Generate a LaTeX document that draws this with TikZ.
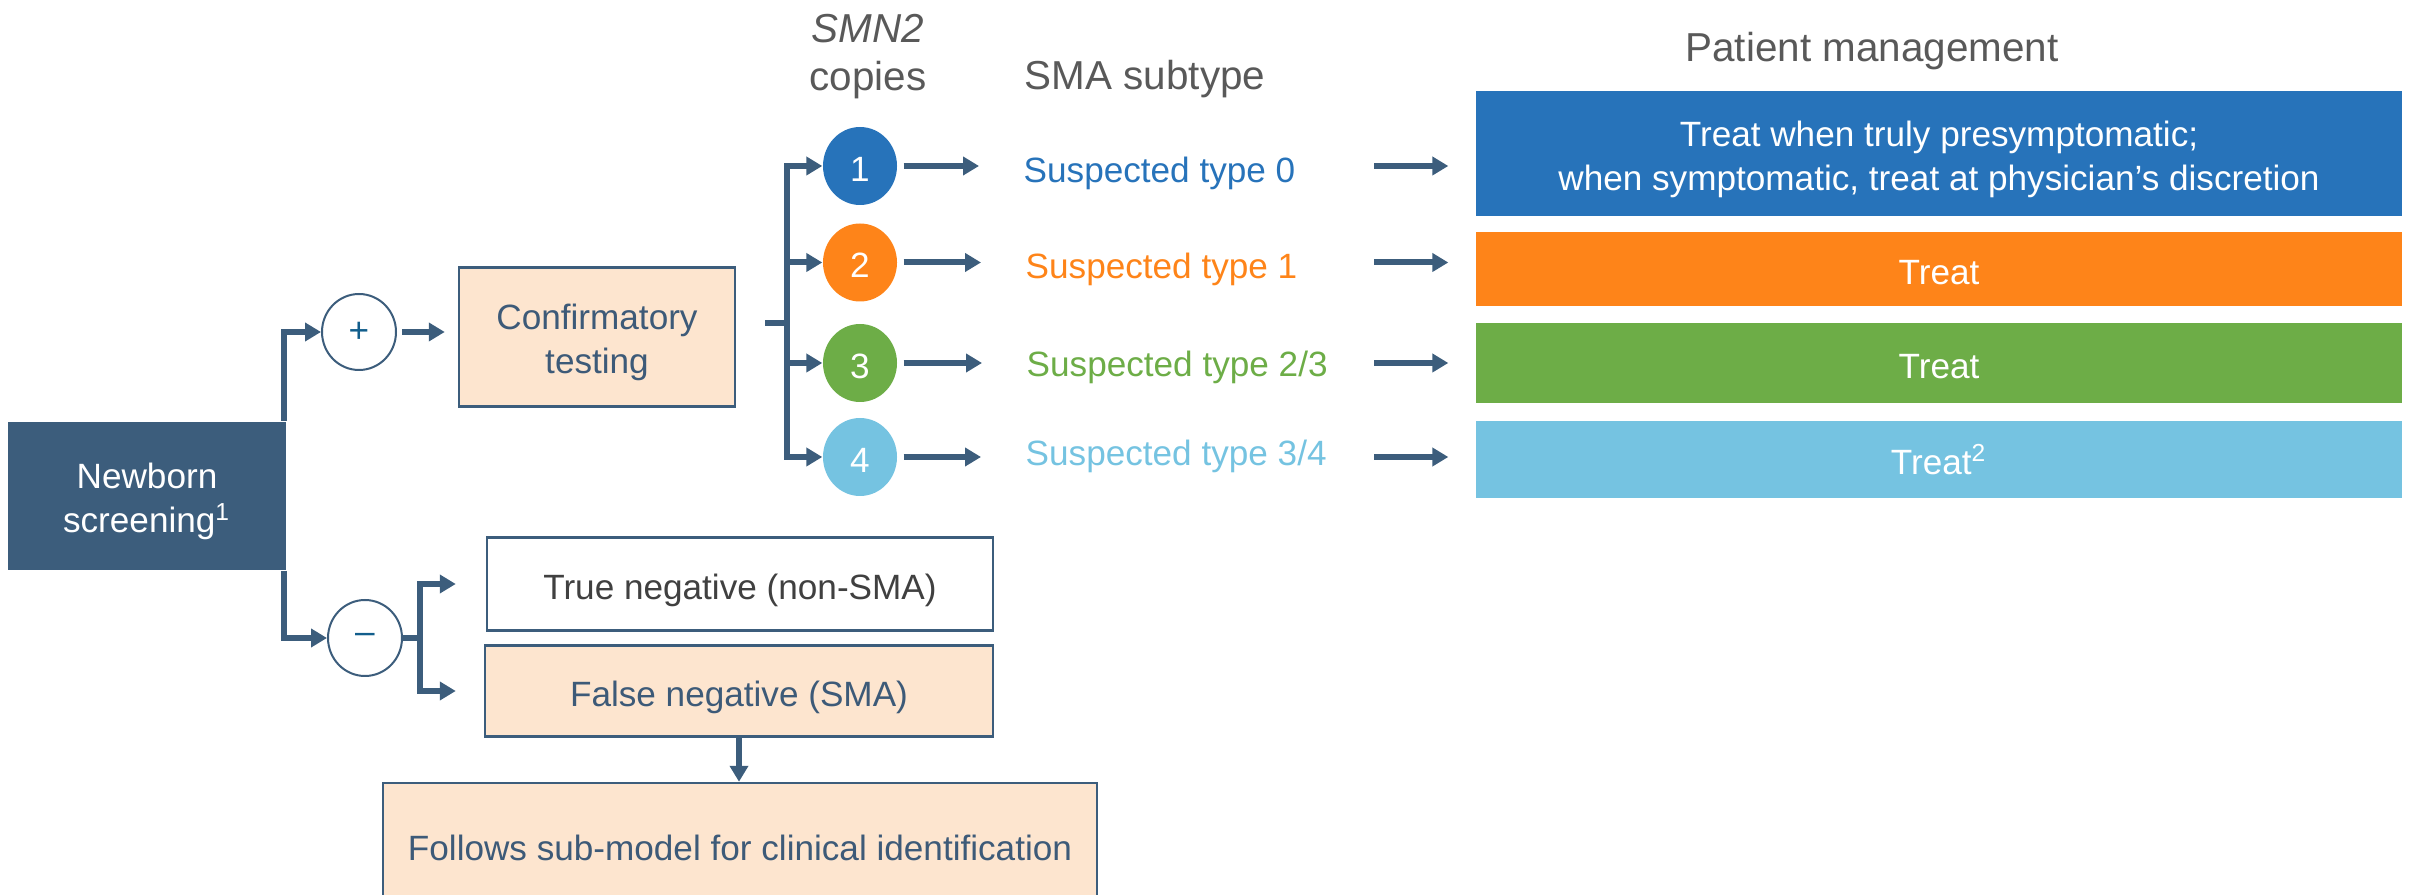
\documentclass[tikz,border=0pt]{standalone}
\usepackage{fontspec}
\setmainfont{Liberation Sans}
\usetikzlibrary{arrows.meta,shapes.geometric,calc}
\definecolor{slate}{HTML}{3C5D7C}
\definecolor{slatetext}{HTML}{3D5A78}
\definecolor{peach}{HTML}{FDE5CF}
\definecolor{signblue}{HTML}{125E8C}
\definecolor{hdrgray}{HTML}{595959}
\definecolor{tngray}{HTML}{404040}
\definecolor{cone}{HTML}{2773BA}
\definecolor{ctwo}{HTML}{FE8419}
\definecolor{cthree}{HTML}{6DAD47}
\definecolor{cfour}{HTML}{75C3E1}
\begin{document}
\begin{tikzpicture}[x=0.1mm,y=-0.1mm,
  conn/.style={draw=slate,line width=0.6mm},
  arr/.style={conn,-{Triangle[length=1.6mm,width=1.8mm]}},
  bodyfont/.style={font=\fontsize{10}{12.6}\selectfont},
  oneline/.style={text height=8.6pt,text depth=0pt},
  twoline/.style={text height=21pt,text depth=0pt},
  box/.style={draw=slate,line width=0.25mm,inner sep=0pt,align=center,bodyfont},
  sign/.style={ellipse,draw=slate,line width=0.2mm,fill=white,inner sep=0pt,
    minimum width=7.4mm,minimum height=7.6mm,text=signblue,bodyfont},
  num/.style={ellipse,inner sep=0pt,minimum width=7.4mm,minimum height=7.8mm,
    text=white,bodyfont,oneline},
  sub/.style={anchor=west,inner sep=0pt,bodyfont,text height=7.16pt,text depth=0pt},
  mbox/.style={inner sep=0pt,minimum width=92.6mm,text=white,align=center,bodyfont},
  hdr/.style={inner sep=0pt,text=hdrgray,align=center,
    font=\fontsize{11.5}{13.6}\selectfont,text height=8.23pt,text depth=0pt}
]
\clip (0,0) rectangle (2415,895);
\useasboundingbox (0,0) rectangle (2415,895);

% headers
\node[hdr,text height=21.9pt] (hsmn) at (868,52) {\textit{SMN2}\\copies};
\node[hdr] (hsub) at (1145,75) {SMA subtype};
\node[hdr] (hpm) at (1872,47.5) {Patient management};

% left part
\node[box,twoline,fill=slate,draw=none,text=white,minimum width=27.8mm,minimum height=14.8mm]
  (nb) at (147,496) {Newborn\\screening\textsuperscript{1}};
\node[sign] (plus) at (359,332) {+};
\node[sign] (minus) at (365,638) {–};
\node[box,twoline,fill=peach,text=slatetext,minimum width=27.6mm,minimum height=13.9mm]
  (conf) at (597,337) {Confirmatory\\testing};
\node[box,oneline,fill=white,text=tngray,minimum width=50.6mm,minimum height=9.3mm]
  (tn) at (740,584) {True negative (non-SMA)};
\node[box,oneline,fill=peach,text=slatetext,minimum width=50.8mm,minimum height=9.1mm]
  (fn) at (739,691) {False negative (SMA)};
\node[box,oneline,fill=peach,text=slatetext,minimum width=71.4mm,minimum height=12.4mm]
  (fol) at (740,845) {Follows sub-model for clinical identification};

% circles
\node[num,fill=cone] (c1) at (860,166) {1};
\node[num,fill=ctwo] (c2) at (860,262.5) {2};
\node[num,fill=cthree] (c3) at (860,363) {3};
\node[num,fill=cfour] (c4) at (860,457) {4};

% subtypes
\node[sub,text=cone] (s1) at (1023,170) {Suspected type 0};
\node[sub,text=ctwo] (s2) at (1025,266) {Suspected type 1};
\node[sub,text=cthree] (s3) at (1026,364) {Suspected type 2/3};
\node[sub,text=cfour] (s4) at (1025,453) {Suspected type 3/4};

% management
\node[mbox,twoline,fill=cone,minimum height=12.5mm] (m1) at (1939,153.5)
  {Treat when truly presymptomatic;\\when symptomatic, treat at physician’s discretion};
\node[mbox,oneline,fill=ctwo,minimum height=7.4mm] (m2) at (1939,269) {Treat};
\node[mbox,oneline,fill=cthree,minimum height=8.0mm] (m3) at (1939,363) {Treat};
\node[mbox,oneline,fill=cfour,minimum height=7.7mm] (m4) at (1939,459.5) {Treat\textsuperscript{2}};

% connectors left
\draw[arr] ([xshift=-0.3mm]nb.north east) |- (plus.west);
\draw[arr] ([xshift=-0.3mm]nb.south east) |- (minus.west);
\draw[arr,shorten <=0.5mm,shorten >=1.3mm] (plus.east) -- (plus.east -| conf.west);

% branch to circles
\coordinate (cs) at (765,323);
\coordinate (cb) at (787,323);
\draw[conn] (cs) -- (cb);
\foreach \i in {1,2,3,4}{
  \draw[arr] (cb) |- (c\i.west);
  \draw[arr,shorten <=0.6mm,shorten >=4.4mm] (c\i.east) -- (c\i.east -| s\i.west);
}
\coordinate (ma) at (1374,0);
\foreach \i in {1,2,3,4}{
  \draw[arr,shorten >=2.7mm] (c\i -| ma) -- (c\i -| m\i.west);
}

% negative branch
\coordinate (nbr) at (420,638);
\draw[conn] (minus.east) -- (nbr);
\draw[arr,shorten >=3mm] (nbr) |- (tn.west);
\draw[arr,shorten >=2.8mm] (nbr) |- (fn.west);
\draw[arr] (fn.south) -- (fn.south |- fol.north);
\end{tikzpicture}
\end{document}
